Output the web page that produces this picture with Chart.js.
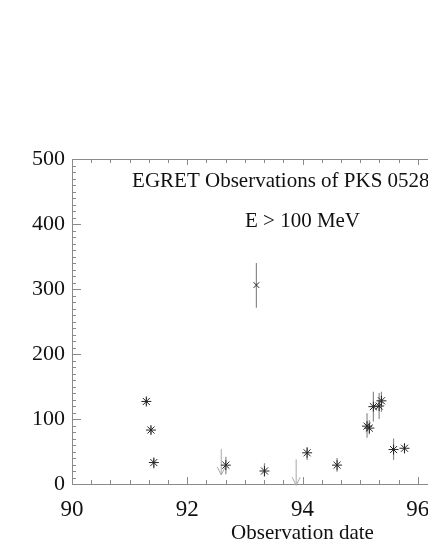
<!DOCTYPE html>
<html>
<head>
<meta charset="utf-8">
<script src="https://cdn.jsdelivr.net/npm/chart.js@4/dist/chart.umd.min.js"></script>
<style>
  html, body { margin: 0; padding: 0; background: #fff; overflow: hidden; }
  #wrap { width: 428px; height: 554px; overflow: hidden; }
</style>
</head>
<body>
<div id="wrap"><canvas id="egret" width="560" height="554"></canvas></div>
<script>
// detections
const obsDate = [91.29, 91.37, 91.42, 92.67, 93.20, 93.34, 94.08, 94.60, 95.12, 95.16, 95.23, 95.33, 95.37, 95.58, 95.77];
const flux    = [127, 83, 33, 29, 306, 20, 48, 29, 89, 86, 119, 120, 128, 53, 55];
const errLow  = [121, 77, 24, 15, 271, 11, 37, 19, 71, 76, 96, 100, 111, 37, 47];
const errHigh = [133, 89, 40, 42, 340, 32, 57, 40, 109, 98, 142, 140, 142, 70, 62];
const marker  = ['star', 'star', 'star', 'star', 'crossRot', 'star', 'star', 'star', 'star', 'star', 'star', 'star', 'star', 'star', 'star'];

// upper limits (arrows)
const limitDate = [92.59, 93.89];
const limitFlux = [54, 38];

const xTicks = [90, 92, 94, 96, 98];
const yTicks = [0, 100, 200, 300, 400, 500];

const axisGray = '#8a8a8a';
const serif = '"Liberation Serif", "DejaVu Serif", serif';

// error bars and upper limit arrows, drawn through the scales
const errorPlugin = {
    id: 'errorBars',
    beforeDatasetsDraw(chart) {
        const ctx = chart.ctx, x = chart.scales.x, y = chart.scales.y;
        ctx.save();
        ctx.strokeStyle = '#8c8c8c';
        ctx.lineWidth = 1.2;
        for (let i = 0; i < obsDate.length; i++) {
            const px = x.getPixelForValue(obsDate[i]);
            ctx.beginPath();
            ctx.moveTo(px, y.getPixelForValue(errLow[i]));
            ctx.lineTo(px, y.getPixelForValue(errHigh[i]));
            ctx.stroke();
        }
        ctx.strokeStyle = '#a8a8a8';
        ctx.lineWidth = 1;
        for (let i = 0; i < limitDate.length; i++) {
            const px = x.getPixelForValue(limitDate[i]);
            const top = y.getPixelForValue(limitFlux[i]);
            const tip = top + 26;
            ctx.beginPath();
            ctx.moveTo(px, top);
            ctx.lineTo(px, tip);
            ctx.moveTo(px - 4, tip - 8);
            ctx.lineTo(px, tip);
            ctx.lineTo(px + 4, tip - 8);
            ctx.stroke();
        }
        ctx.restore();
    }
};

// inward IDL-style tick marks on the frame, plus the labels in the plot
const framePlugin = {
    id: 'frame',
    afterDraw(chart) {
        const ctx = chart.ctx, a = chart.chartArea, x = chart.scales.x, y = chart.scales.y;
        ctx.save();
        ctx.strokeStyle = axisGray;
        ctx.lineWidth = 1;
        ctx.beginPath();
        ctx.moveTo(a.left, a.top + 0.5);
        ctx.lineTo(a.right, a.top + 0.5);
        ctx.stroke();
        for (let k = 0; k <= 24; k++) {
            const v = x.min + k / 3;
            const px = Math.round(x.getPixelForValue(v)) + 0.5;
            const major = k % 6 === 0;
            ctx.beginPath();
            ctx.moveTo(px, a.bottom);
            ctx.lineTo(px, a.bottom - (major ? 7 : 4));
            ctx.moveTo(px, a.top);
            ctx.lineTo(px, a.top + (major ? 6 : 4));
            ctx.stroke();
        }
        for (let v = 0; v <= 500; v += 10) {
            const py = Math.round(y.getPixelForValue(v)) + 0.5;
            const major = v % 100 === 0;
            ctx.beginPath();
            ctx.moveTo(a.left, py);
            ctx.lineTo(a.left + (major ? 9 : 4), py);
            ctx.stroke();
        }
        ctx.fillStyle = '#111';
        ctx.textAlign = 'center';
        ctx.textBaseline = 'middle';
        ctx.font = '21px ' + serif;
        const cx = (a.left + a.right) / 2;
        ctx.fillText('EGRET Observations of PKS 0528+134', cx, a.top + 22);
        ctx.fillText('E > 100 MeV', cx, a.top + 62);
        ctx.restore();
    }
};

new Chart(document.getElementById('egret'), {
    type: 'scatter',
    data: {
        datasets: [{
            data: obsDate.map((d, i) => ({ x: d, y: flux[i] })),
            pointStyle: marker,
            pointRadius: marker.map(m => m === 'star' ? 5 : 4),
            borderColor: '#262626',
            backgroundColor: '#262626',
            borderWidth: 1
        }]
    },
    options: {
        responsive: false,
        animation: false,
        layout: { padding: { top: 159, right: 27, left: 0, bottom: 0 } },
        plugins: { legend: { display: false }, tooltip: { enabled: false } },
        scales: {
            x: {
                type: 'linear',
                min: 90,
                max: 98,
                afterBuildTicks(scale) { scale.ticks = xTicks.map(v => ({ value: v })); },
                afterFit(scale) { scale.height = 70; },
                grid: { display: false, drawTicks: false },
                border: { display: true, color: axisGray, width: 1 },
                ticks: { color: '#111', font: { family: serif, size: 23 }, padding: 12 },
                title: {
                    display: true,
                    text: 'Observation date',
                    color: '#111',
                    font: { family: serif, size: 21 },
                    padding: { top: 0, bottom: 8 }
                }
            },
            y: {
                type: 'linear',
                min: 0,
                max: 500,
                afterBuildTicks(scale) { scale.ticks = yTicks.map(v => ({ value: v })); },
                afterFit(scale) { scale.width = 72; },
                grid: { display: false, drawTicks: false },
                border: { display: true, color: axisGray, width: 1 },
                ticks: { color: '#111', font: { family: serif, size: 22 }, padding: 7 }
            }
        }
    },
    plugins: [errorPlugin, framePlugin]
});
</script>
</body>
</html>
